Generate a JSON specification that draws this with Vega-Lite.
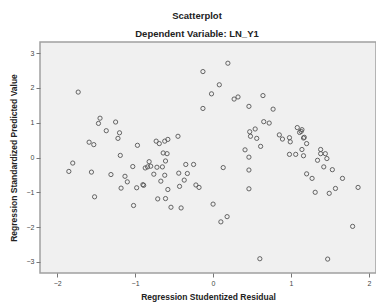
{
  "$schema": "https://vega.github.io/schema/vega-lite/v6.json",
  "width": 336,
  "height": 231,
  "autosize": {"type": "none"},
  "padding": {"left": 40, "top": 42, "right": 0, "bottom": 30},
  "background": "white",
  "title": {
    "text": "Scatterplot",
    "subtitle": "Dependent Variable: LN_Y1",
    "anchor": "middle",
    "dx": -11,
    "font": "Liberation Sans",
    "fontSize": 9.5,
    "fontWeight": "bold",
    "color": "#222",
    "subtitleFont": "Liberation Sans",
    "subtitleFontSize": 9.5,
    "subtitleFontWeight": "bold",
    "subtitleColor": "#222",
    "subtitlePadding": 8,
    "offset": 4
  },
  "config": {
    "view": {"fill": "#f0f0f0", "stroke": "#a0a0a0", "strokeWidth": 1.5},
    "axis": {
      "grid": false,
      "domain": false,
      "tickColor": "#777",
      "tickSize": 4,
      "labelFont": "Liberation Sans",
      "labelFontSize": 7,
      "labelColor": "#444",
      "labelPadding": 2,
      "titleFont": "Liberation Sans",
      "titleFontSize": 8.5,
      "titleFontWeight": "bold",
      "titleColor": "#222"
    }
  },
  "data": {
    "values": [
      {"r": -1.73, "p": 1.88}, {"r": -1.45, "p": 1.13}, {"r": -1.47, "p": 0.98}, {"r": -1.25, "p": 1.02},
      {"r": -1.37, "p": 0.77}, {"r": -1.20, "p": 0.71}, {"r": -1.22, "p": 0.55}, {"r": -1.59, "p": 0.44},
      {"r": -1.53, "p": 0.37}, {"r": -0.97, "p": 0.35}, {"r": -1.19, "p": 0.06}, {"r": -1.80, "p": -0.16},
      {"r": -1.85, "p": -0.40}, {"r": -1.56, "p": -0.42}, {"r": -1.31, "p": -0.49}, {"r": -1.03, "p": -0.26},
      {"r": -1.13, "p": -0.54}, {"r": -1.10, "p": -0.70}, {"r": -1.18, "p": -0.88}, {"r": -0.98, "p": -0.87},
      {"r": -0.89, "p": -0.80}, {"r": -0.90, "p": -0.78}, {"r": -0.82, "p": -0.12}, {"r": -0.87, "p": -0.30},
      {"r": -0.80, "p": -0.25}, {"r": -0.84, "p": -0.27}, {"r": -0.76, "p": -0.48}, {"r": -1.52, "p": -1.13},
      {"r": -1.02, "p": -1.38}, {"r": -0.72, "p": -0.28}, {"r": -0.65, "p": -0.27}, {"r": -0.62, "p": -0.51},
      {"r": -0.67, "p": -0.68}, {"r": -0.58, "p": -0.92}, {"r": -0.71, "p": -1.19}, {"r": -0.61, "p": -1.18},
      {"r": -0.54, "p": -1.43}, {"r": -0.41, "p": -1.45}, {"r": -0.44, "p": -0.45}, {"r": -0.33, "p": -0.46},
      {"r": -0.37, "p": -0.65}, {"r": -0.43, "p": -0.83}, {"r": -0.22, "p": -0.79}, {"r": -0.18, "p": -0.86},
      {"r": -0.35, "p": -0.20}, {"r": -0.25, "p": -0.20}, {"r": -0.61, "p": -0.10}, {"r": -0.64, "p": 0.13},
      {"r": -0.59, "p": 0.11}, {"r": -0.73, "p": 0.47}, {"r": -0.69, "p": 0.40}, {"r": -0.62, "p": 0.47},
      {"r": -0.58, "p": 0.52}, {"r": -0.45, "p": 0.61}, {"r": 0.19, "p": 2.71}, {"r": -0.13, "p": 2.47},
      {"r": 0.08, "p": 2.09}, {"r": -0.02, "p": 1.83}, {"r": -0.13, "p": 1.41}, {"r": 0.27, "p": 1.68},
      {"r": 0.32, "p": 1.74}, {"r": 0.64, "p": 1.78}, {"r": 0.46, "p": 1.47}, {"r": 0.77, "p": 1.39},
      {"r": 0.65, "p": 1.03}, {"r": 0.72, "p": 0.99}, {"r": 0.54, "p": 0.82}, {"r": 0.47, "p": 0.74},
      {"r": 0.48, "p": 0.61}, {"r": 0.56, "p": 0.55}, {"r": 0.61, "p": 0.32}, {"r": 0.41, "p": 0.22},
      {"r": 0.46, "p": 0.01}, {"r": 0.13, "p": -0.29}, {"r": 0.46, "p": -0.36}, {"r": 0.46, "p": -0.90},
      {"r": 0.00, "p": -1.34}, {"r": 0.18, "p": -1.70}, {"r": 0.10, "p": -1.85}, {"r": 0.60, "p": -2.91},
      {"r": 0.85, "p": 0.65}, {"r": 0.89, "p": 0.53}, {"r": 0.98, "p": 0.57}, {"r": 0.99, "p": 0.45},
      {"r": 1.08, "p": 0.86}, {"r": 1.14, "p": 0.80}, {"r": 1.11, "p": 0.72}, {"r": 1.13, "p": 0.75},
      {"r": 1.16, "p": 0.56}, {"r": 1.17, "p": 0.58}, {"r": 1.20, "p": 0.40}, {"r": 1.14, "p": 0.23},
      {"r": 0.98, "p": 0.09}, {"r": 1.06, "p": 0.09}, {"r": 1.16, "p": 0.05}, {"r": 1.38, "p": 0.23},
      {"r": 1.38, "p": 0.11}, {"r": 1.44, "p": 0.11}, {"r": 1.46, "p": -0.03}, {"r": 1.34, "p": -0.08},
      {"r": 1.42, "p": -0.27}, {"r": 1.53, "p": -0.35}, {"r": 1.20, "p": -0.47}, {"r": 1.27, "p": -0.60},
      {"r": 1.66, "p": -0.60}, {"r": 1.31, "p": -1.00}, {"r": 1.49, "p": -1.03}, {"r": 1.57, "p": -0.89},
      {"r": 1.86, "p": -0.86}, {"r": 1.79, "p": -1.98}, {"r": 1.47, "p": -2.92}
    ]
  },
  "mark": {"type": "point", "shape": "circle", "filled": false, "size": 18, "stroke": "#555", "strokeWidth": 0.9, "opacity": 1},
  "encoding": {
    "x": {
      "field": "r", "type": "quantitative",
      "scale": {"domain": [-2.22, 2.09], "nice": false, "zero": false},
      "axis": {"values": [-2, -1, 0, 1, 2], "title": "Regression Studentized Residual", "titlePadding": 6}
    },
    "y": {
      "field": "p", "type": "quantitative",
      "scale": {"domain": [-3.32, 3.32], "nice": false, "zero": false},
      "axis": {"values": [-3, -2, -1, 0, 1, 2, 3], "title": "Regression Standardized Predicted Value", "titlePadding": 8}
    }
  }
}
